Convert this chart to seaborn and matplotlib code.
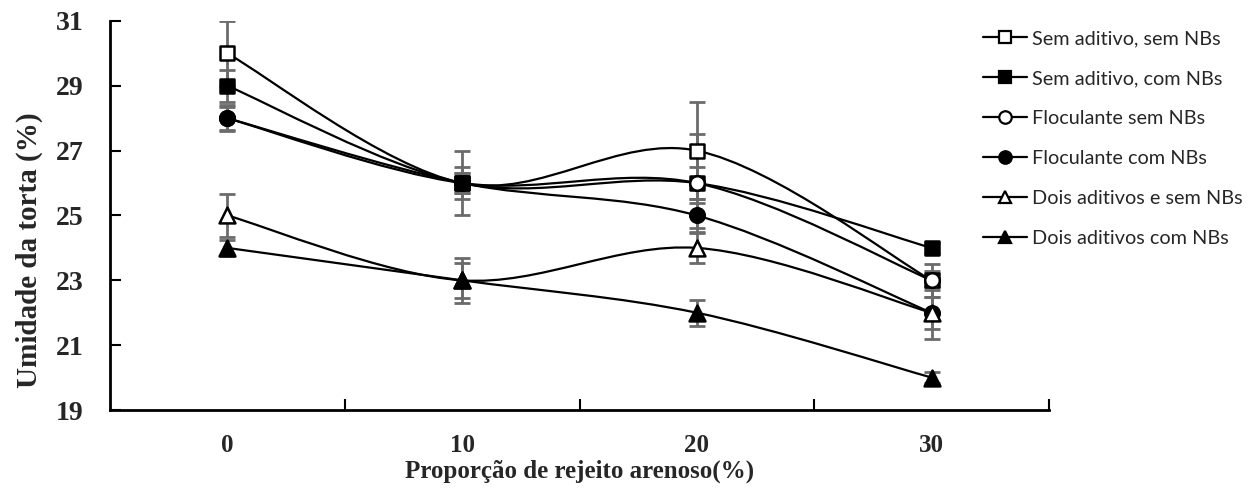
import numpy as np
import pandas as pd
import matplotlib
matplotlib.use("Agg")
import matplotlib.pyplot as plt
from matplotlib.path import Path
from matplotlib.patches import PathPatch
from matplotlib.lines import Line2D
import seaborn as sns

# ---------------- data ----------------
categories = ["0", "10", "20", "30"]
series_names = [
    "Sem aditivo, sem NBs",
    "Sem aditivo, com NBs",
    "Floculante sem NBs",
    "Floculante com NBs",
    "Dois aditivos e sem NBs",
    "Dois aditivos com NBs",
]
sem_sem = [30, 26, 27, 23]
sem_com = [29, 26, 26, 24]
floc_sem = [28, 26, 26, 23]
floc_com = [28, 26, 25, 22]
dois_sem = [25, 23, 24, 22]
dois_com = [24, 23, 22, 20]

err_sem_sem = [1.0, 1.0, 1.5, 0.5]
err_sem_com = [0.5, 0.5, 1.5, 0.15]
err_floc_sem = [0.35, 0.3, 0.5, 0.3]
err_floc_com = [0.4, 0.3, 0.4, 0.5]
err_dois_sem = [0.65, 0.7, 0.45, 0.8]
err_dois_com = [0.25, 0.55, 0.4, 0.17]

values = [sem_sem, sem_com, floc_sem, floc_com, dois_sem, dois_com]
errors = [err_sem_sem, err_sem_com, err_floc_sem, err_floc_com, err_dois_sem, err_dois_com]

# styles
markers = ["s", "s", "o", "o", "^", "^"]
filled = [False, True, False, True, False, True]

rows = []
for name, vals, errs in zip(series_names, values, errors):
    for i, (c, v, e) in enumerate(zip(categories, vals, errs)):
        rows.append({"serie": name, "cat": c, "pos": i, "val": v, "err": e})
df = pd.DataFrame(rows)

# ---------------- figure ----------------
sns.set_style("ticks")
plt.rcParams["font.family"] = ["Liberation Serif", "DejaVu Serif"]

fig = plt.figure(figsize=(12.59, 4.88), dpi=100)
ax = fig.add_axes([110 / 1259, 1 - 410 / 488, (1049 - 110) / 1259, (410 - 21) / 488])

err_color = "#6b6b6b"


def smooth_path(xs, ys):
    pts = np.column_stack([xs, ys]).astype(float)
    n = len(pts)
    verts = [pts[0]]
    codes = [Path.MOVETO]
    for i in range(n - 1):
        p0 = pts[i - 1] if i > 0 else pts[i]
        p1 = pts[i]
        p2 = pts[i + 1]
        p3 = pts[i + 2] if i + 2 < n else pts[i + 1]
        c1 = p1 + (p2 - p0) / 6.0
        c2 = p2 - (p3 - p1) / 6.0
        verts += [c1, c2, p2]
        codes += [Path.CURVE4] * 3
    return Path(np.array(verts), codes)


for k, name in enumerate(series_names):
    sub = df[df["serie"] == name]
    ax.errorbar(sub["pos"], sub["val"], yerr=sub["err"], fmt="none",
                ecolor=err_color, elinewidth=2.0, capsize=6, capthick=2.0,
                zorder=2 + 0.1 * k)
    patch = PathPatch(smooth_path(sub["pos"].values, sub["val"].values),
                      facecolor="none", edgecolor="black", lw=1.6,
                      zorder=3 + 0.1 * k)
    ax.add_patch(patch)
    sns.scatterplot(data=sub, x="pos", y="val", ax=ax, marker=markers[k],
                    s=110 if markers[k] != "^" else 130,
                    facecolor="black" if filled[k] else "white",
                    edgecolor="black", linewidth=1.8, zorder=5 + k, legend=False)

ax.set_xlim(-0.5, 3.5)
ax.set_ylim(19, 31)
ax.set_yticks(np.arange(19, 32, 2))
ax.set_xticks(range(len(categories)))
ax.set_xticklabels(categories)
ax.set_xticks([0.5, 1.5, 2.5, 3.5], minor=True)
ax.tick_params(axis="x", which="major", length=0, pad=17, labelsize=18)
ax.tick_params(axis="x", which="minor", length=8, width=1.5, direction="in", color="black")
ax.tick_params(axis="y", which="major", length=8, width=1.5, direction="in", pad=19,
               labelsize=20, color="black")
for lab in ax.get_xticklabels() + ax.get_yticklabels():
    lab.set_fontweight("bold")

ax.set_xlabel("Proporção de rejeito arenoso(%)", fontsize=18, fontweight="bold", labelpad=2)
ax.set_ylabel("Umidade da torta (%)", fontsize=21, fontweight="bold")
ax.yaxis.set_label_coords(-0.0714, 0.41)

sns.despine(ax=ax)
for sp in ["left", "bottom"]:
    ax.spines[sp].set_linewidth(2.0)
    ax.spines[sp].set_color("black")

handles = []
for k, name in enumerate(series_names):
    handles.append(Line2D([0], [0], color="black", lw=1.6, marker=markers[k],
                          markersize=9, markerfacecolor="black" if filled[k] else "white",
                          markeredgecolor="black", markeredgewidth=1.6))
leg = fig.legend(handles, series_names, loc="upper left",
                 bbox_to_anchor=(975 / 1259, 1 - 22 / 488),
                 frameon=False, handlelength=2.2, handletextpad=0.25,
                 labelspacing=1.16, borderaxespad=0,
                 prop={"family": ["Lato", "DejaVu Sans"], "size": 14.3})

fig.savefig("out.png", dpi=100)
